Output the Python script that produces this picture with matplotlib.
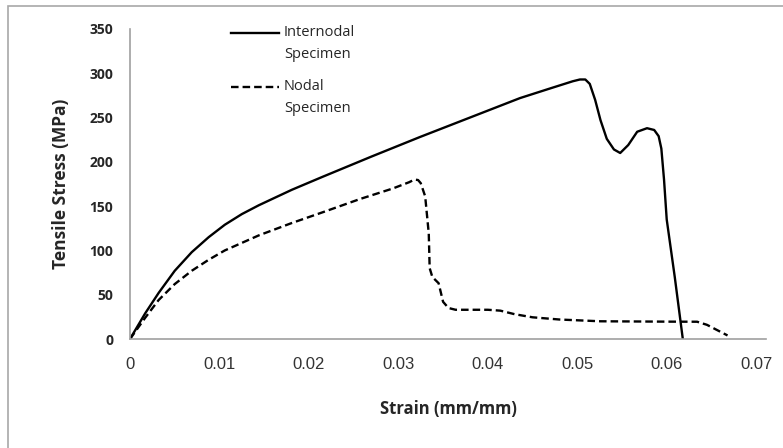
import matplotlib.pyplot as plt
from matplotlib.patches import Rectangle

# Stress-strain data
internodal_strain = [0, 0.0017, 0.0032, 0.005, 0.0069, 0.0088, 0.0106, 0.0125, 0.0144,
                     0.0163, 0.0181, 0.0215, 0.0270, 0.0324, 0.0380, 0.0436, 0.047,
                     0.0495, 0.0503, 0.0509, 0.0514, 0.0520, 0.0526, 0.0533, 0.0541,
                     0.0548, 0.0557, 0.0567, 0.0578, 0.0586, 0.0591, 0.0594, 0.0597,
                     0.0600, 0.0609, 0.0618]
internodal_stress = [0, 29, 52, 77, 98, 115, 129, 141, 151,
                     160, 168.5, 183, 206, 228, 250, 272, 283,
                     291, 293, 293, 288, 270, 247, 226, 214,
                     210, 219, 234, 238, 236, 229, 215, 180,
                     135, 70, 0]

nodal_strain = [0, 0.0017, 0.0032, 0.005, 0.0069, 0.0088, 0.0106, 0.0144, 0.0181,
                0.0218, 0.0257, 0.0294, 0.0312, 0.0318, 0.0322, 0.0325, 0.0330,
                0.0334, 0.0335, 0.0338, 0.0345, 0.0350, 0.0356, 0.0364, 0.0400,
                0.0414, 0.0430, 0.0450, 0.0480, 0.0526, 0.0600, 0.0634, 0.0645,
                0.0668]
nodal_stress = [0, 24, 44, 62, 77, 89.5, 100, 117, 131,
                144, 158, 170, 177, 180, 179.5, 176, 161,
                119, 80, 70, 63, 42, 35, 33, 33,
                32, 28, 24.5, 22, 20, 19.6, 19.5, 16,
                4]

x_ticks = [0, 0.01, 0.02, 0.03, 0.04, 0.05, 0.06, 0.07]
x_tick_labels = ["0", "0.01", "0.02", "0.03", "0.04", "0.05", "0.06", "0.07"]
y_ticks = [0, 50, 100, 150, 200, 250, 300, 350]

label_internodal = ["Internodal", "Specimen"]
label_nodal = ["Nodal", "Specimen"]

W, H = 783, 448
txt = "#262626"
fig = plt.figure(figsize=(W / 100, H / 100), dpi=100)
ax = fig.add_axes([130 / W, 109 / H, 636 / W, 310 / H])

# chart frame (runs off the right and bottom edges)
fig.patches.append(Rectangle((8 / W, -0.2), 1.2, (H - 6) / H + 0.2,
                             transform=fig.transFigure, fill=False,
                             ec="#a8a8a8", lw=1.2))

dash = (0, (3.2, 1.7))
ax.plot(internodal_strain, internodal_stress, color="black", lw=1.7)
ax.plot(nodal_strain, nodal_stress, color="black", lw=1.7, ls=dash)

ax.set_xlim(0, 0.0711)
ax.set_ylim(0, 350)
ax.set_xticks(x_ticks)
ax.set_xticklabels(x_tick_labels, fontfamily="Liberation Sans", fontsize=12,
                   color="#333333")
ax.set_yticks(y_ticks)
ax.set_yticklabels([str(v) for v in y_ticks], fontfamily="Open Sans",
                   fontweight="bold", fontsize=10, color=txt)
ax.tick_params(axis="both", length=0)
ax.tick_params(axis="y", pad=12)
ax.tick_params(axis="x", pad=13)

for s in ["top", "right"]:
    ax.spines[s].set_visible(False)
for s in ["left", "bottom"]:
    ax.spines[s].set_color("#a0a0a0")
    ax.spines[s].set_linewidth(1.2)

ax.set_xlabel("Strain (mm/mm)", fontfamily="Open Sans", fontweight="bold",
              fontsize=12, color=txt, labelpad=20)
ax.set_ylabel("Tensile Stress (MPa)", fontfamily="Open Sans", fontweight="bold",
              fontsize=12.5, color=txt, labelpad=14)

# hand-made legend
def px(x, y):
    return (x - 130) / 636, (339 - y) / 310

for ypos, ls, lines in [(33, "-", label_internodal), (87, dash, label_nodal)]:
    x0, y0 = px(231, ypos)
    x1, _ = px(279, ypos)
    ax.plot([x0, x1], [y0, y0], transform=ax.transAxes, color="black",
            lw=1.7, ls=ls, clip_on=False)
    for i, t in enumerate(lines):
        tx, ty = px(284, ypos + 22 * i)
        ax.text(tx, ty, t, transform=ax.transAxes, va="center", ha="left",
                fontfamily="Open Sans", fontsize=10.5, color=txt)

fig.savefig("out.png", dpi=100)
